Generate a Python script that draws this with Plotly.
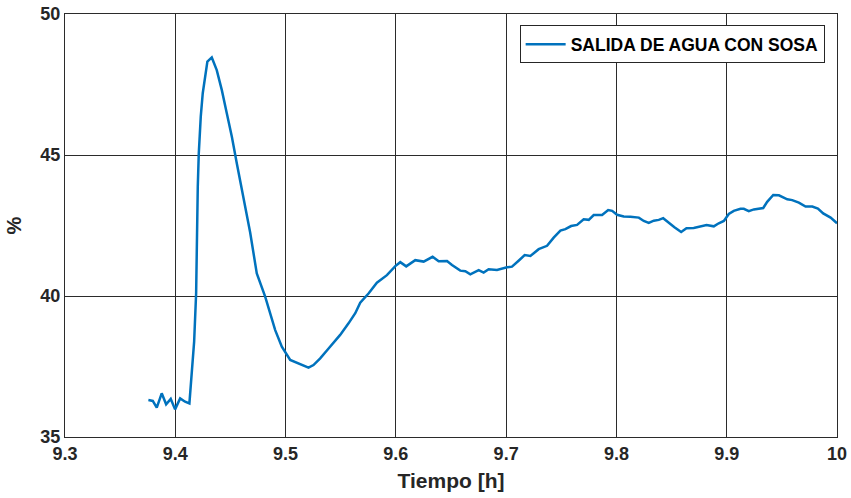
import plotly.graph_objects as go

# Tiempo [h] y salida de agua con sosa [%]
tiempo = [
    9.3756, 9.3796, 9.3832, 9.3877, 9.3917, 9.3959, 9.3998, 9.4044, 9.4089, 9.4128,
    9.4171, 9.4189, 9.4204, 9.4213, 9.4231, 9.4249, 9.4291, 9.4331, 9.4376, 9.4422,
    9.4467, 9.4513, 9.4558, 9.4603, 9.4649, 9.4679, 9.4739, 9.4815, 9.4906, 9.4966,
    9.5042, 9.5117, 9.5162, 9.5208, 9.5253, 9.5314, 9.5390, 9.5495, 9.5571, 9.5632,
    9.5677, 9.5752, 9.5828, 9.5919, 9.5995, 9.6040, 9.6094, 9.6176, 9.6252, 9.6333,
    9.6388, 9.6464, 9.6509, 9.6584, 9.6630, 9.6675, 9.6751, 9.6796, 9.6841, 9.6917,
    9.7008, 9.7053, 9.7113, 9.7168, 9.7220, 9.7295, 9.7371, 9.7431, 9.7492, 9.7537,
    9.7589, 9.7643, 9.7703, 9.7749, 9.7794, 9.7870, 9.7925, 9.7961, 9.8006, 9.8066,
    9.8127, 9.8203, 9.8248, 9.8293, 9.8339, 9.8384, 9.8424, 9.8460, 9.8526, 9.8587,
    9.8635, 9.8701, 9.8762, 9.8817, 9.8883, 9.8928, 9.8974, 9.9019, 9.9064, 9.9125,
    9.9155, 9.9200, 9.9246, 9.9331, 9.9367, 9.9422, 9.9473, 9.9518, 9.9549, 9.9594,
    9.9654, 9.9715, 9.9776, 9.9827, 9.9875, 9.9942, 10.0,
]
salida = [
    36.31, 36.28, 36.04, 36.55, 36.16, 36.35, 35.98, 36.37, 36.25, 36.19,
    38.38, 40.10, 43.88, 45.06, 46.36, 47.19, 48.31, 48.46, 48.01, 47.30,
    46.48, 45.65, 44.70, 43.76, 42.93, 42.25, 40.80, 39.98, 38.79, 38.20,
    37.73, 37.61, 37.52, 37.46, 37.55, 37.79, 38.14, 38.62, 39.03, 39.39,
    39.76, 40.09, 40.47, 40.74, 41.06, 41.20, 41.05, 41.27, 41.22, 41.39,
    41.23, 41.24, 41.10, 40.90, 40.88, 40.77, 40.92, 40.83, 40.95, 40.92,
    41.02, 41.04, 41.25, 41.45, 41.42, 41.66, 41.78, 42.07, 42.32, 42.37,
    42.48, 42.52, 42.72, 42.70, 42.87, 42.87, 43.05, 43.02, 42.88, 42.82,
    42.81, 42.78, 42.66, 42.59, 42.67, 42.70, 42.76, 42.64, 42.44, 42.27,
    42.40, 42.41, 42.47, 42.52, 42.47, 42.58, 42.66, 42.91, 43.02, 43.09,
    43.09, 43.01, 43.07, 43.12, 43.34, 43.58, 43.57, 43.49, 43.43, 43.40,
    43.31, 43.17, 43.17, 43.10, 42.93, 42.78, 42.58,
]

x_ticks = [9.3, 9.4, 9.5, 9.6, 9.7, 9.8, 9.9, 10]
x_tick_text = ["9.3", "9.4", "9.5", "9.6", "9.7", "9.8", "9.9", "10"]
y_ticks = [35, 40, 45, 50]

font_family = "Liberation Sans, Arial, sans-serif"
grid_color = "#2b2b2b"

fig = go.Figure()
fig.add_trace(go.Scatter(
    x=tiempo, y=salida, mode="lines",
    name="SALIDA DE AGUA CON SOSA",
    line=dict(color="#0072BD", width=2.5),
))

axis_common = dict(
    showgrid=True, gridcolor=grid_color, gridwidth=1,
    showline=True, linecolor=grid_color, linewidth=1, mirror=True,
    ticks="", zeroline=False, automargin=False,
    tickfont=dict(family=font_family, size=18, color="#262626", weight="bold"),
)

fig.update_layout(
    width=851, height=498,
    margin=dict(l=65, r=14, t=14, b=61),
    paper_bgcolor="white", plot_bgcolor="white",
    font=dict(family=font_family, color="#262626"),
    showlegend=True,
    legend=dict(
        x=0.984, y=0.973, xanchor="right", yanchor="top",
        bgcolor="white", bordercolor="#262626", borderwidth=1,
        font=dict(family=font_family, size=17.5, color="black", weight="bold"),
        itemwidth=40,
    ),
    xaxis=dict(
        range=[9.3, 10], tickvals=x_ticks, ticktext=x_tick_text,
        title=dict(text="Tiempo [h]", standoff=10,
                   font=dict(family=font_family, size=21, color="#262626", weight="bold")),
        **axis_common,
    ),
    yaxis=dict(
        range=[35, 50], tickvals=y_ticks,
        title=dict(text="%", standoff=13,
                   font=dict(family=font_family, size=20, color="#262626", weight="bold")),
        **axis_common,
    ),
)

fig.write_html("out.html")
